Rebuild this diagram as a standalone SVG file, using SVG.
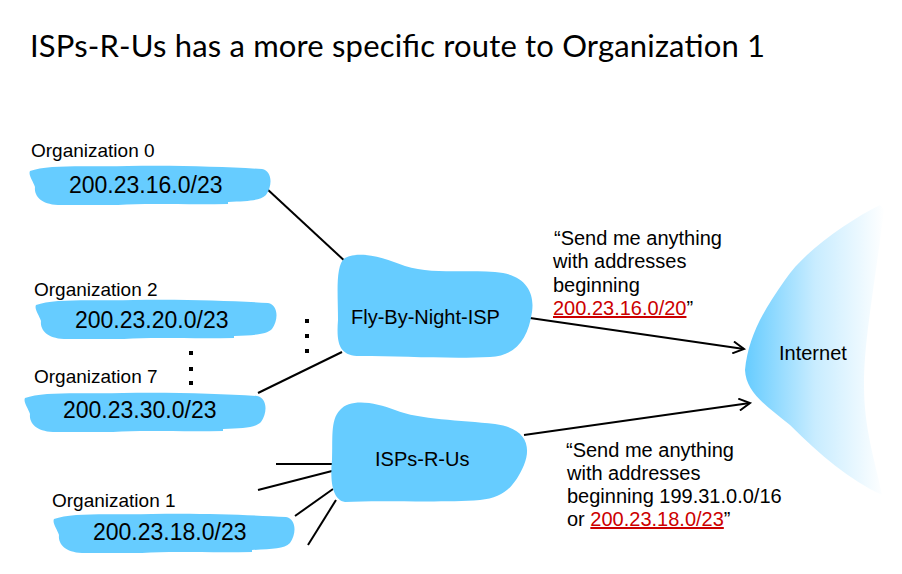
<svg xmlns="http://www.w3.org/2000/svg" width="902" height="574" viewBox="0 0 902 574">
<defs>
<style>
.t{font-family:"Liberation Sans",Arial,sans-serif;fill:#000}
.lbl{font-size:19px}
.pfx{font-size:23px}
.n{font-size:20px}
.blob{fill:#66CCFF}
.ln{stroke:#000;stroke-width:2;fill:none}
.red{fill:#CC0000;text-decoration:underline}
.dot{fill:#000}
</style>
<linearGradient id="gInt" x1="745" y1="0" x2="885" y2="0" gradientUnits="userSpaceOnUse">
<stop offset="0" stop-color="#66CCFF"/>
<stop offset="0.5" stop-color="#C8ECFF"/>
<stop offset="1" stop-color="#FFFFFF"/>
</linearGradient>
<path id="orgBlob" d="M2,8 C20,1 60,4 100,3 C150,2 200,4 234,6 C244,8 245,22 238,32 C232,38 220,38 200,39 L200,41 C160,42 120,40 90,42 L30,42 C12,41 6,32 7,24 C5,18 0,12 2,8 Z"/>
<marker id="arr" markerWidth="14" markerHeight="14" refX="12" refY="7" orient="auto" markerUnits="userSpaceOnUse">
<path d="M1,1 L12,7 L1,13" fill="none" stroke="#000" stroke-width="2"/>
</marker>
</defs>
<rect width="902" height="574" fill="#fff"/>

<text x="30" y="57" font-family="Lato,'Open Sans',sans-serif" font-size="31" fill="#000" textLength="735" lengthAdjust="spacing">ISPs-R-Us has a more specific route to Organization 1</text>

<g id="connectors">
<line class="ln" x1="266" y1="188" x2="348" y2="264"/>
<line class="ln" x1="258" y1="393" x2="342" y2="352"/>
<line class="ln" x1="530" y1="318" x2="744" y2="349" marker-end="url(#arr)"/>
<line class="ln" x1="524" y1="435" x2="750" y2="403" marker-end="url(#arr)"/>
<line class="ln" x1="276" y1="464" x2="332" y2="464"/>
<line class="ln" x1="258" y1="490" x2="332" y2="471"/>
<line class="ln" x1="295" y1="516" x2="333" y2="489"/>
<line class="ln" x1="308" y1="545" x2="336" y2="500"/>
</g>

<g id="org0">
<text class="t lbl" x="31" y="157">Organization 0</text>
<use href="#orgBlob" class="blob" transform="translate(28,163)"/>
<text class="t pfx" x="69" y="193">200.23.16.0/23</text>
</g>

<g id="org2">
<text class="t lbl" x="34" y="296">Organization 2</text>
<use href="#orgBlob" class="blob" transform="translate(34,297)"/>
<text class="t pfx" x="75" y="328">200.23.20.0/23</text>
</g>

<g id="org7">
<text class="t lbl" x="34" y="383">Organization 7</text>
<use href="#orgBlob" class="blob" transform="translate(23,390)"/>
<text class="t pfx" x="63" y="418">200.23.30.0/23</text>
</g>

<g id="org1">
<text class="t lbl" x="52" y="507">Organization 1</text>
<use href="#orgBlob" class="blob" transform="translate(52,511)"/>
<text class="t pfx" x="93" y="540">200.23.18.0/23</text>
</g>

<g id="dots">
<rect class="dot" x="305" y="319" width="4" height="4"/>
<rect class="dot" x="305" y="334" width="4" height="4"/>
<rect class="dot" x="305" y="349" width="4" height="4"/>
<rect class="dot" x="189" y="351" width="4" height="4"/>
<rect class="dot" x="189" y="367" width="4" height="4"/>
<rect class="dot" x="189" y="381" width="4" height="4"/>
</g>

<g id="flybynight">
<path class="blob" d="M345,258 C360,250 385,258 405,266 C430,274 460,270 495,272 C525,274 535,292 532,312 C528,340 515,356 490,357 C450,359 400,356 360,356 C340,356 336,345 338,320 C338,295 335,265 345,258 Z"/>
<text class="t n" x="351" y="324">Fly-By-Night-ISP</text>
</g>

<g id="ispsrus">
<path class="blob" d="M340,410 C350,398 375,402 395,410 C420,420 460,420 495,424 C525,428 532,445 524,465 C515,485 505,498 480,500 C440,503 380,500 345,502 C332,500 330,480 332,460 C333,440 330,420 340,410 Z"/>
<text class="t n" x="375" y="466">ISPs-R-Us</text>
</g>

<g id="internet">
<path fill="url(#gInt)" d="M880,205 C850,220 805,250 785,280 C760,315 748,340 745,370 C746,392 765,405 790,425 C820,455 850,480 882,495 C875,460 864,430 864,385 C864,340 874,290 884,210 Z"/>
<text class="t n" x="779" y="360">Internet</text>
</g>

<g id="msg1">
<text class="t n" x="554" y="245">“Send me anything</text>
<text class="t n" x="553" y="268">with addresses</text>
<text class="t n" x="553" y="292">beginning</text>
<text class="t n" x="553" y="315"><tspan class="red">200.23.16.0/20</tspan>”</text>
</g>

<g id="msg2">
<text class="t n" x="566" y="457">“Send me anything</text>
<text class="t n" x="567" y="480">with addresses</text>
<text class="t n" x="567" y="503">beginning 199.31.0.0/16</text>
<text class="t n" x="567" y="526">or <tspan class="red">200.23.18.0/23</tspan>”</text>
</g>
</svg>
